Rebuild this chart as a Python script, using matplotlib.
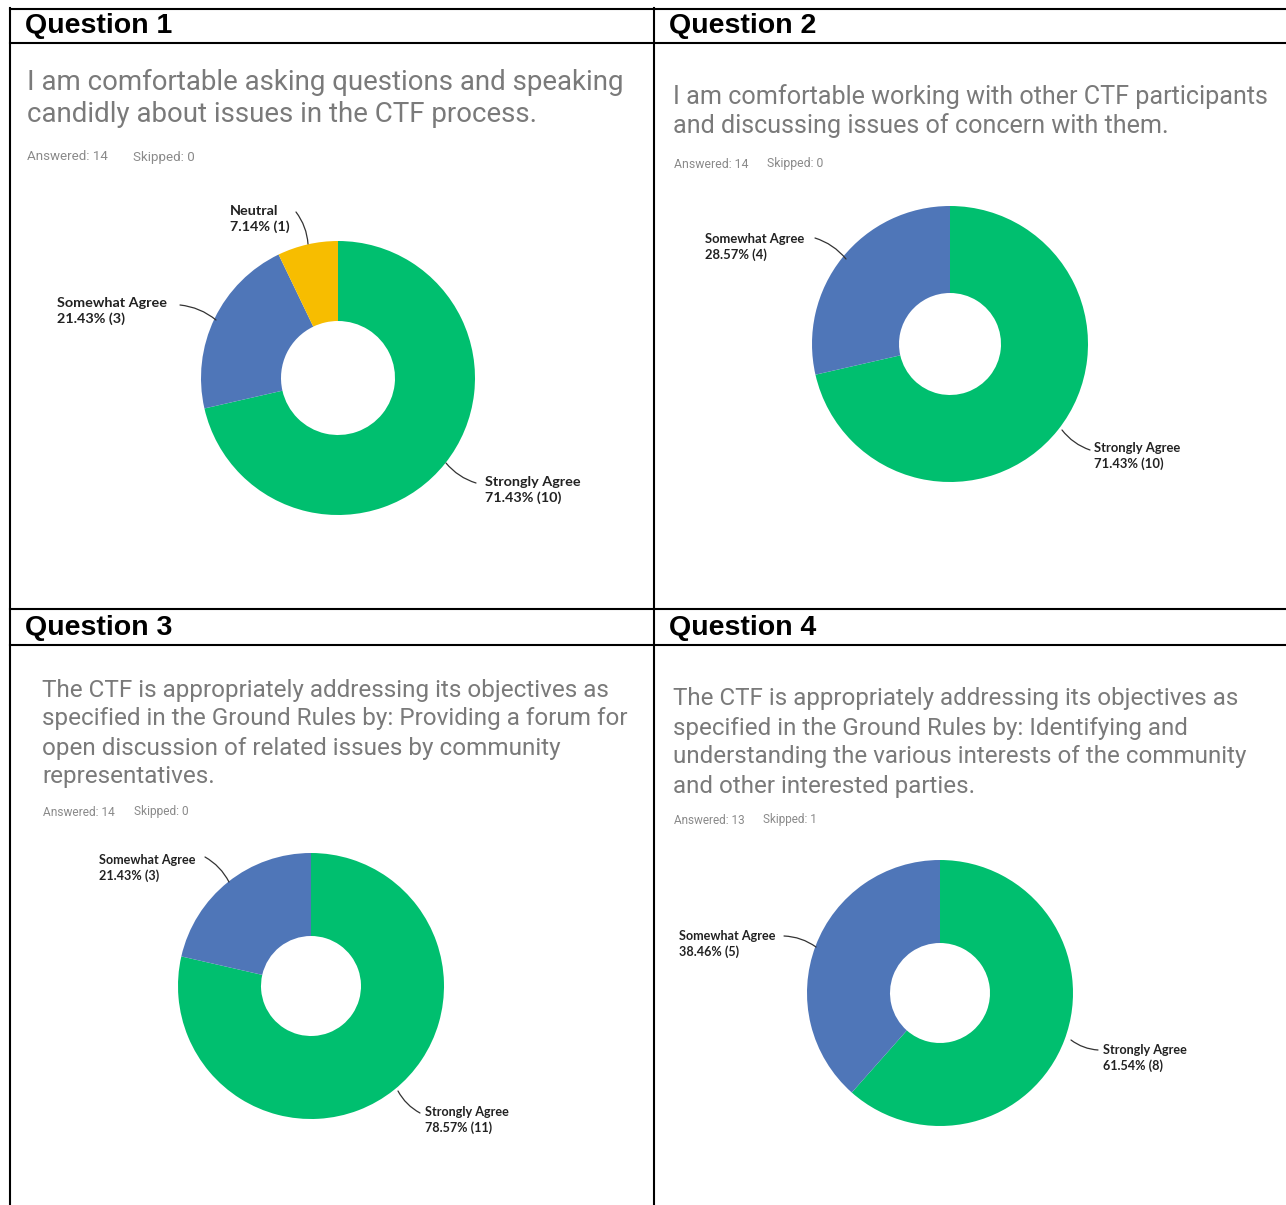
import matplotlib
matplotlib.use("Agg")
import matplotlib.pyplot as plt

W, H = 1286, 1205
GREEN = "#00bf6f"
BLUE = "#4f76b8"
YELLOW = "#f7bd00"

# --- data ---
headers = ["Question 1", "Question 2", "Question 3", "Question 4"]
questions = [
    ["I am comfortable asking questions and speaking",
     "candidly about issues in the CTF process."],
    ["I am comfortable working with other CTF participants",
     "and discussing issues of concern with them."],
    ["The CTF is appropriately addressing its objectives as",
     "specified in the Ground Rules by: Providing a forum for",
     "open discussion of related issues by community",
     "representatives."],
    ["The CTF is appropriately addressing its objectives as",
     "specified in the Ground Rules by: Identifying and",
     "understanding the various interests of the community",
     "and other interested parties."],
]
answered = [14, 14, 14, 13]
skipped = [0, 0, 0, 1]
categories = ["Strongly Agree", "Somewhat Agree", "Neutral"]
strongly_pct = [71.43, 71.43, 78.57, 61.54]
strongly_n = [10, 10, 11, 8]
somewhat_pct = [21.43, 28.57, 21.43, 38.46]
somewhat_n = [3, 4, 3, 5]
neutral_pct = [7.14, 0, 0, 0]
neutral_n = [1, 0, 0, 0]
colors = [GREEN, BLUE, YELLOW]

# --- layout (pixels) ---
header_xy = [(25, 26), (669, 26), (25, 628), (669, 628)]
q_layout = [  # x, first line y, line step, fontsize
    (27, 82, 33, 19.9),
    (673, 97, 29, 18.1),
    (42, 690, 29, 17.5),
    (673, 699, 29, 17.4),
]
ans_xy = [(27, 157), (674, 164), (43, 812), (674, 820)]
ans_fs = [9.6, 8.8, 8.6, 8.5]
skip_dx = [106, 93, 91, 89]
lab_fs = [10.4, 9.4, 9.1, 9.1]
donut = [  # cx, cy, outer r, inner r
    (338, 378, 137, 57),
    (950, 344, 138, 51),
    (311, 986, 133, 50),
    (940, 993, 133, 50),
]
# label text top-left and leader line (text end -> wedge)
label_pos = [
    {"Strongly Agree": ((485, 476), (476, 483), (446, 463)),
     "Somewhat Agree": ((57, 297), (180, 305), (216, 320)),
     "Neutral": ((230, 205), (296, 212), (308, 244))},
    {"Strongly Agree": ((1094, 442), (1090, 450), (1062, 430)),
     "Somewhat Agree": ((705, 233), (815, 238), (846, 259))},
    {"Strongly Agree": ((425, 1106), (420, 1113), (398, 1091)),
     "Somewhat Agree": ((99, 854), (205, 857), (229, 882))},
    {"Strongly Agree": ((1103, 1044), (1098, 1050), (1071, 1040)),
     "Somewhat Agree": ((679, 930), (784, 936), (816, 947))},
]

fig = plt.figure(figsize=(W / 100, H / 100), dpi=100)

# donuts
for i in range(4):
    cx, cy, r, ri = donut[i]
    ax = fig.add_axes([(cx - r) / W, 1 - (cy + r) / H, 2 * r / W, 2 * r / H])
    vals = [strongly_pct[i], somewhat_pct[i], neutral_pct[i]]
    vs = [v for v in vals if v > 0]
    cs = [c for v, c in zip(vals, colors) if v > 0]
    ax.pie(vs, colors=cs, startangle=90, counterclock=False, radius=1,
           wedgeprops=dict(width=1 - ri / r, linewidth=0))
    ax.set_xlim(-1, 1)
    ax.set_ylim(-1, 1)
    ax.set_aspect("equal")
    ax.axis("off")

# overlay in pixel coords
ov = fig.add_axes([0, 0, 1, 1], zorder=5)
ov.set_xlim(0, W)
ov.set_ylim(H, 0)
ov.axis("off")
ov.patch.set_alpha(0)

lw = 1.5
ov.plot([10, 10], [8, H], color="black", lw=lw)
ov.plot([654, 654], [8, H], color="black", lw=lw)
for y in [9, 43, 609, 645]:
    ov.plot([10, W], [y, y], color="black", lw=lw)

for i in range(4):
    hx, hy = header_xy[i]
    ov.text(hx, hy, headers[i], fontsize=20.5, fontweight="bold",
            family="Liberation Sans", va="center", ha="left")
    qx, qy, step, fs = q_layout[i]
    for k, line in enumerate(questions[i]):
        ov.text(qx, qy + k * step, line, fontsize=fs, color="#7a7a7a",
                family="Roboto", va="center", ha="left")
    ax_, ay_ = ans_xy[i]
    ov.text(ax_, ay_, f"Answered: {answered[i]}", fontsize=ans_fs[i],
            color="#8a8a8a", family="Roboto", va="center", ha="left")
    ov.text(ax_ + skip_dx[i], ay_, f"Skipped: {skipped[i]}", fontsize=ans_fs[i],
            color="#8a8a8a", family="Roboto", va="center", ha="left")

    pcts = [strongly_pct[i], somewhat_pct[i], neutral_pct[i]]
    ns = [strongly_n[i], somewhat_n[i], neutral_n[i]]
    for cat, p, n in zip(categories, pcts, ns):
        if p <= 0:
            continue
        (tx, ty), (l0x, l0y), (l1x, l1y) = label_pos[i][cat]
        ov.text(tx, ty, f"{cat}\n{p:.2f}% ({n})", fontsize=lab_fs[i],
                fontweight="bold", family="Lato", color="#222222",
                va="top", ha="left", linespacing=1.3)
        ov.annotate("", xy=(l1x, l1y), xytext=(l0x, l0y),
                    arrowprops=dict(arrowstyle="-", color="#333333", lw=0.9,
                                    connectionstyle="arc3,rad=-0.15",
                                    shrinkA=0, shrinkB=0))

fig.savefig("out.png", dpi=100)
